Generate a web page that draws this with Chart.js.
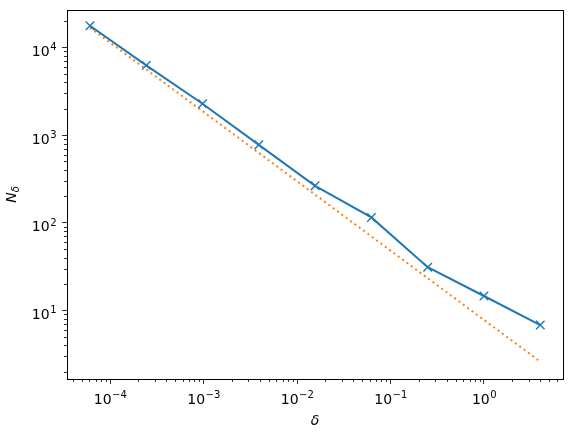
<!DOCTYPE html>
<html>
<head>
<meta charset="utf-8">
<script src="https://cdn.jsdelivr.net/npm/chart.js@4.4.1/dist/chart.umd.min.js"></script>
<style>
  html, body { margin: 0; padding: 0; background: #fff; }
  #wrap { width: 573px; height: 437px; }
</style>
</head>
<body>
<div id="wrap"><canvas id="plot" width="573" height="437"></canvas></div>
<script>
// delta = 4^-7 ... 4^1
const deltas = [6.1035e-5, 2.4414e-4, 9.7656e-4, 3.9063e-3, 0.015625, 0.0625, 0.25, 1, 4];
const counts = [17700, 6240, 2275, 774, 264, 115, 31.1, 14.6, 6.8];

// reference power law, drawn between the two end points
const fitX = [6.1035e-5, 4];
const fitY = [16800, 2.6];

const xMin = Math.pow(10, -4.46), xMax = Math.pow(10, 0.845);
const yMin = Math.pow(10, 0.2175), yMax = Math.pow(10, 4.427);

// all 1..9 x 10^n values inside the range
function logTicks(lo, hi) {
    const out = [];
    for (let e = Math.floor(Math.log10(lo)); e <= Math.ceil(Math.log10(hi)); e++) {
        for (let m = 1; m <= 9; m++) {
            const v = m * Math.pow(10, e);
            if (v >= lo && v <= hi) out.push({ value: v, major: m === 1 });
        }
    }
    return out;
}

const isMajor = v => Math.abs(Math.log10(v) - Math.round(Math.log10(v))) < 1e-9;
const expOf = v => String(Math.round(Math.log10(v))).replace('-', '\u2212');

const BASE_FONT = '14px "DejaVu Sans"';
const EXP_FONT = '10px "DejaVu Sans"';

// draws "10" with a raised exponent; align = 'center' or 'right'
function powText(ctx, e, x, y, align) {
    ctx.font = BASE_FONT;
    const wb = ctx.measureText('10').width;
    ctx.font = EXP_FONT;
    const we = ctx.measureText(e).width;
    const x0 = align === 'center' ? x - (wb + we) / 2 : x - wb - we;
    ctx.font = BASE_FONT;
    ctx.fillText('10', x0, y);
    ctx.font = EXP_FONT;
    ctx.fillText(e, x0 + wb + 0.5, y - 5.5);
}

const frame = {
    id: 'frame',
    afterDraw(c) {
        const ctx = c.ctx, a = c.chartArea;
        const sx = c.scales.x, sy = c.scales.y;
        ctx.save();
        // minor ticks
        ctx.strokeStyle = '#000';
        ctx.lineWidth = 0.8;
        ctx.beginPath();
        sx.ticks.forEach(t => {
            if (isMajor(t.value)) return;
            const px = Math.round(sx.getPixelForValue(t.value)) + 0.5;
            ctx.moveTo(px, a.bottom);
            ctx.lineTo(px, a.bottom + 3);
        });
        sy.ticks.forEach(t => {
            if (isMajor(t.value)) return;
            const py = Math.round(sy.getPixelForValue(t.value)) + 0.5;
            ctx.moveTo(a.left, py);
            ctx.lineTo(a.left - 3, py);
        });
        ctx.stroke();
        // box
        ctx.lineWidth = 1;
        ctx.strokeRect(Math.round(a.left) + 0.5, Math.round(a.top) + 0.5,
            Math.round(a.right - a.left), Math.round(a.bottom - a.top));

        // tick labels
        ctx.fillStyle = '#000';
        ctx.textAlign = 'left';
        ctx.textBaseline = 'alphabetic';
        sx.ticks.forEach(t => {
            if (!isMajor(t.value)) return;
            powText(ctx, expOf(t.value), sx.getPixelForValue(t.value), a.bottom + 24.5, 'center');
        });
        sy.ticks.forEach(t => {
            if (!isMajor(t.value)) return;
            powText(ctx, expOf(t.value), a.left - 11, sy.getPixelForValue(t.value) + 8.5, 'right');
        });

        // x label
        ctx.font = 'italic 14px "DejaVu Sans"';
        ctx.textAlign = 'center';
        ctx.fillText('δ', (a.left + a.right) / 2, 425);

        // y label N_delta
        ctx.textAlign = 'left';
        ctx.translate(16, (a.top + a.bottom) / 2);
        ctx.rotate(-Math.PI / 2);
        ctx.font = 'italic 14px "DejaVu Sans"';
        const wN = ctx.measureText('N').width;
        ctx.font = 'italic 10px "DejaVu Sans"';
        const wD = ctx.measureText('δ').width;
        const x0 = -(wN + wD) / 2;
        ctx.font = 'italic 14px "DejaVu Sans"';
        ctx.fillText('N', x0, 0);
        ctx.font = 'italic 10px "DejaVu Sans"';
        ctx.fillText('δ', x0 + wN, 2.5);
        ctx.restore();
    }
};

const gridOpts = {
    drawOnChartArea: false, drawTicks: true, tickLength: 5,
    color: c => (c.tick && isMajor(c.tick.value)) ? '#000' : 'rgba(0,0,0,0)',
    lineWidth: 0.8
};

new Chart(document.getElementById('plot'), {
    type: 'line',
    data: {
        datasets: [{
            data: deltas.map((d, i) => ({ x: d, y: counts[i] })),
            borderColor: '#1f77b4',
            backgroundColor: '#1f77b4',
            borderWidth: 2,
            pointStyle: 'crossRot',
            pointRadius: 6,
            pointBorderWidth: 1.4,
            pointBorderColor: '#1f77b4',
            tension: 0,
            fill: false
        }, {
            data: fitX.map((d, i) => ({ x: d, y: fitY[i] })),
            borderColor: '#ff7f0e',
            borderWidth: 2,
            borderDash: [2, 3.4],
            borderCapStyle: 'butt',
            pointRadius: 0,
            tension: 0,
            fill: false
        }]
    },
    options: {
        responsive: false,
        animation: false,
        devicePixelRatio: 1,
        layout: { padding: { top: 10, right: 10, left: 0, bottom: 0 } },
        plugins: { legend: { display: false }, tooltip: { enabled: false } },
        scales: {
            x: {
                type: 'logarithmic',
                min: xMin, max: xMax,
                afterBuildTicks: s => { s.ticks = logTicks(xMin, xMax); },
                afterFit: s => { s.height = 58; s.paddingLeft = 0; s.paddingRight = 0; },
                border: { display: true, color: '#000', width: 1 },
                grid: gridOpts,
                ticks: { display: false, autoSkip: false }
            },
            y: {
                type: 'logarithmic',
                min: yMin, max: yMax,
                afterBuildTicks: s => { s.ticks = logTicks(yMin, yMax); },
                afterFit: s => { s.width = 67; s.paddingTop = 0; s.paddingBottom = 0; },
                border: { display: true, color: '#000', width: 1 },
                grid: gridOpts,
                ticks: { display: false, autoSkip: false }
            }
        }
    },
    plugins: [frame]
});
</script>
</body>
</html>
